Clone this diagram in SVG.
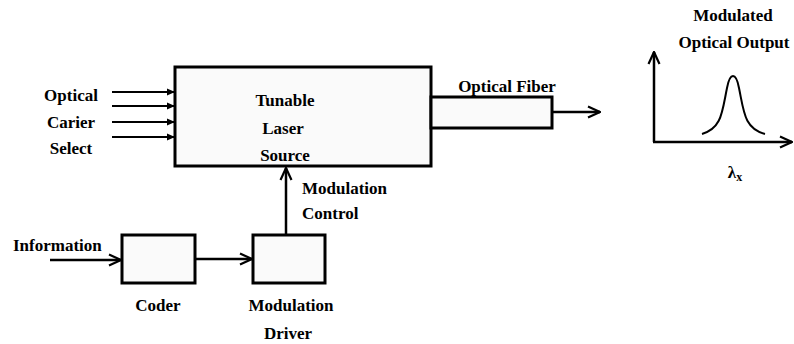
<svg xmlns="http://www.w3.org/2000/svg" width="794" height="344" viewBox="0 0 794 344">
<style>
text{font-family:"Liberation Serif","Times New Roman",serif;font-weight:bold;font-size:17px;fill:#000}
.box{fill:#fafafa;stroke:#000;stroke-width:3}
.ln{fill:none;stroke:#000;stroke-width:2.5}
.thin{fill:none;stroke:#000;stroke-width:2}
</style>
<defs>
<marker id="open" viewBox="0 0 14 14" refX="13" refY="7" markerWidth="14" markerHeight="14" markerUnits="userSpaceOnUse" orient="auto">
<path d="M1,1.5 L13,7 L1,12.5" fill="none" stroke="#000" stroke-width="2.2"/>
</marker>
<marker id="filled" viewBox="0 0 8 8" refX="8" refY="4" markerWidth="8" markerHeight="8" markerUnits="userSpaceOnUse" orient="auto">
<path d="M0,0.5 L8,4 L0,7.5 Z" fill="#000"/>
</marker>
</defs>
<rect width="794" height="344" fill="#fff"/>

<g id="connectors">
<line class="thin" x1="112" y1="92" x2="175" y2="92" marker-end="url(#filled)"/>
<line class="thin" x1="112" y1="106" x2="175" y2="106" marker-end="url(#filled)"/>
<line class="thin" x1="112" y1="122" x2="175" y2="122" marker-end="url(#filled)"/>
<line class="thin" x1="112" y1="137" x2="175" y2="137" marker-end="url(#filled)"/>
<line class="ln" x1="552" y1="112" x2="600" y2="112" marker-end="url(#open)"/>
<line class="ln" x1="286" y1="234" x2="286" y2="168" marker-end="url(#open)"/>
<line class="ln" x1="50" y1="260" x2="121" y2="260" marker-end="url(#open)"/>
<line class="ln" x1="195" y1="259" x2="252" y2="259" marker-end="url(#open)"/>
</g>

<g id="laser">
<rect class="box" x="175" y="67" width="256" height="99"/>
<text x="285" y="106" text-anchor="middle">Tunable</text>
<text x="283" y="134" text-anchor="middle">Laser</text>
<text x="285" y="161" text-anchor="middle">Source</text>
</g>

<g id="fiber">
<rect class="box" x="431" y="97" width="121" height="31"/>
<text x="507" y="92" text-anchor="middle">Optical Fiber</text>
</g>

<g id="inputs">
<text x="71" y="101" text-anchor="middle">Optical</text>
<text x="71" y="128" text-anchor="middle">Carier</text>
<text x="71" y="154" text-anchor="middle">Select</text>
</g>

<g id="coder">
<rect class="box" x="122" y="235" width="73" height="48"/>
<text x="158" y="311" text-anchor="middle">Coder</text>
</g>

<g id="driver">
<rect class="box" x="253" y="235" width="72" height="48"/>
<text x="291" y="311" text-anchor="middle">Modulation</text>
<text x="288" y="339" text-anchor="middle">Driver</text>
</g>

<g id="modctrl">
<text x="302" y="194">Modulation</text>
<text x="302" y="219">Control</text>
</g>

<g id="information">
<text x="13" y="251">Information</text>
</g>

<g id="graph">
<line class="ln" x1="654" y1="142" x2="654" y2="52" marker-end="url(#open)"/>
<line class="ln" x1="653" y1="142" x2="792" y2="142" marker-end="url(#open)"/>
<path class="thin" d="M702,134 C722,128 722,112 727,88 C730,72 736,72 739,88 C744,112 744,128 765,134"/>
<text x="733" y="21" text-anchor="middle">Modulated</text>
<text x="734" y="48" text-anchor="middle">Optical Output</text>
<text x="735" y="178" text-anchor="middle" font-size="19">λ<tspan font-size="12" dy="3">x</tspan></text>
</g>
</svg>
